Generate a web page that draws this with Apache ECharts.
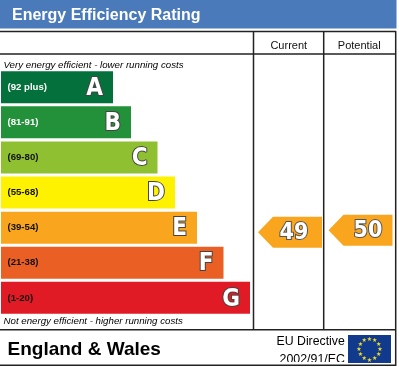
<!DOCTYPE html>
<html>
<head>
<meta charset="utf-8">
<style>
  html, body { margin: 0; padding: 0; background: #fff; }
  #chart { width: 399px; height: 367px; }
</style>
<script src="https://cdn.jsdelivr.net/npm/echarts@6/dist/echarts.min.js"></script>
</head>
<body>
<div id="chart"></div>
<script>
var ranges = ['(92 plus)', '(81-91)', '(69-80)', '(55-68)', '(39-54)', '(21-38)', '(1-20)'];
var letters = ['A', 'B', 'C', 'D', 'E', 'F', 'G'];
var barLengths = [112, 130, 156.5, 174, 196, 222.5, 249];
var barColors = ['#04713c', '#23903a', '#8fc031', '#fff200', '#f9a61e', '#ea5f23', '#e01b25'];
var ratingColumns = ['Current', 'Potential'];
var ratings = [49, 50];
var ratingColor = '#f9a61e';

var font = '"Liberation Sans", Arial, sans-serif';
var markFont = '"DejaVu Sans Condensed", "DejaVu Sans"';
var lineColor = '#222';

function line(x1, y1, x2, y2, z) {
  return {
    type: 'line',
    shape: {x1: x1, y1: y1, x2: x2, y2: y2},
    style: {stroke: lineColor, lineWidth: 1.5},
    z: z || 20,
  };
}

function text(x, y, str, size, weight, style, fill) {
  return {
    type: 'text',
    x: x,
    y: y,
    style: {
      text: str,
      fill: fill || '#000',
      font: style + ' ' + weight + ' ' + size + 'px ' + font,
      verticalAlign: 'middle',
    },
    z: 20,
  };
}

// eu flag stars
var stars = [];
for (var i = 0; i < 12; i++) {
  var a = i * Math.PI / 6;
  stars.push({
    type: 'text',
    x: 369.5 + Math.sin(a) * 10.5,
    y: 349.5 - Math.cos(a) * 10.5,
    style: {
      text: '\u2605',
      fill: '#f2dc28',
      font: '6px "DejaVu Sans"',
      align: 'center',
      verticalAlign: 'middle',
    },
    z: 22,
  });
}

// arrow marker with the rating number in it
function renderArrow(params, api) {
  var c = api.coord([api.value(0), api.value(1)]);
  var cx = c[0] + 1.25;
  var cy = c[1];
  return {
    type: 'group',
    children: [
      {
        type: 'polygon',
        shape: {
          points: [
            [cx - 32, cy],
            [cx - 17, cy - 15.5],
            [cx + 32, cy - 15.5],
            [cx + 32, cy + 15.5],
            [cx - 17, cy + 15.5],
          ],
        },
        style: {fill: ratingColor},
      },
      {
        type: 'text',
        x: cx + (params.dataIndex ? 7.5 : 4),
        y: cy + 1,
        style: {
          text: String(api.value(1)),
          fill: '#fff',
          stroke: '#555',
          lineWidth: 2,
          font: 'bold 23px ' + markFont,
          align: 'center',
          verticalAlign: 'middle',
        },
      },
    ],
  };
}

var chart = echarts.init(document.getElementById('chart'));
chart.setOption({
  animation: false,
  grid: [
    {left: 1, top: 69.7, width: 398, height: 245.7},
    {left: 253.5, top: 54.3, width: 141, height: 276},
  ],
  xAxis: [
    {gridIndex: 0, type: 'value', min: 0, max: 398, show: false},
    {
      gridIndex: 1,
      type: 'category',
      position: 'top',
      data: ratingColumns,
      axisLine: {show: false},
      axisTick: {show: false},
      axisLabel: {color: '#111', fontSize: 11, fontFamily: font, margin: 3},
    },
  ],
  yAxis: [
    {
      gridIndex: 0,
      type: 'category',
      inverse: true,
      data: ranges,
      z: 10,
      axisLine: {show: false},
      axisTick: {show: false},
      axisLabel: {
        inside: true,
        margin: 6.5,
        padding: [3, 0, 0, 0],
        fontSize: 9.6,
        fontWeight: 'bold',
        fontFamily: font,
        color: function (value, index) {
          return index < 2 ? '#fff' : '#111';
        },
      },
    },
    {gridIndex: 1, type: 'value', min: 0, max: 138, show: false},
  ],
  series: [
    {
      type: 'bar',
      xAxisIndex: 0,
      yAxisIndex: 0,
      barWidth: 32,
      data: barLengths.map(function (v, i) {
        return {value: v, itemStyle: {color: barColors[i]}};
      }),
      label: {
        show: true,
        position: 'insideRight',
        distance: 10,
        offset: [0, 1.5],
        formatter: function (p) {
          return letters[p.dataIndex];
        },
        color: '#fff',
        fontFamily: markFont,
        fontWeight: 'bold',
        fontSize: 24,
        textBorderColor: '#444',
        textBorderWidth: 2,
      },
    },
    {
      type: 'custom',
      xAxisIndex: 1,
      yAxisIndex: 1,
      renderItem: renderArrow,
      encode: {x: 0, y: 1},
      data: ratingColumns.map(function (c, i) {
        return [i, ratings[i]];
      }),
    },
  ],
  graphic: [
    {type: 'rect', shape: {x: 0, y: 0, width: 396.5, height: 28.5}, style: {fill: '#4a7ab9'}, z: 15},
    text(12, 15.7, 'Energy Efficiency Rating', 16, 'bold', 'normal', '#fff'),
    line(0, 31.5, 396, 31.5),
    line(0, 54, 396, 54),
    line(0, 329.8, 396, 329.8),
    line(253.5, 31.5, 253.5, 330),
    line(323.7, 31.5, 323.7, 330),
    line(395.7, 31, 395.7, 366),
    text(3.5, 65.5, 'Very energy efficient - lower running costs', 9.7, 'normal', 'italic'),
    text(3.5, 321, 'Not energy efficient - higher running costs', 9.7, 'normal', 'italic'),
    text(7.5, 349.5, 'England & Wales', 19, 'bold', 'normal'),
    text(276.5, 341.5, 'EU Directive', 12.3, 'normal', 'normal'),
    text(279.5, 359.5, '2002/91/EC', 12.4, 'normal', 'normal'),
    // reference cuts the directive number off at the bottom
    {type: 'rect', shape: {x: 270, y: 362, width: 78, height: 3}, style: {fill: '#fff'}, z: 21},
    line(0, 365.2, 396, 365.2, 21),
    {type: 'rect', shape: {x: 348, y: 335, width: 43, height: 28}, style: {fill: '#123a8c'}, z: 21},
  ].concat(stars),
});
</script>
</body>
</html>
